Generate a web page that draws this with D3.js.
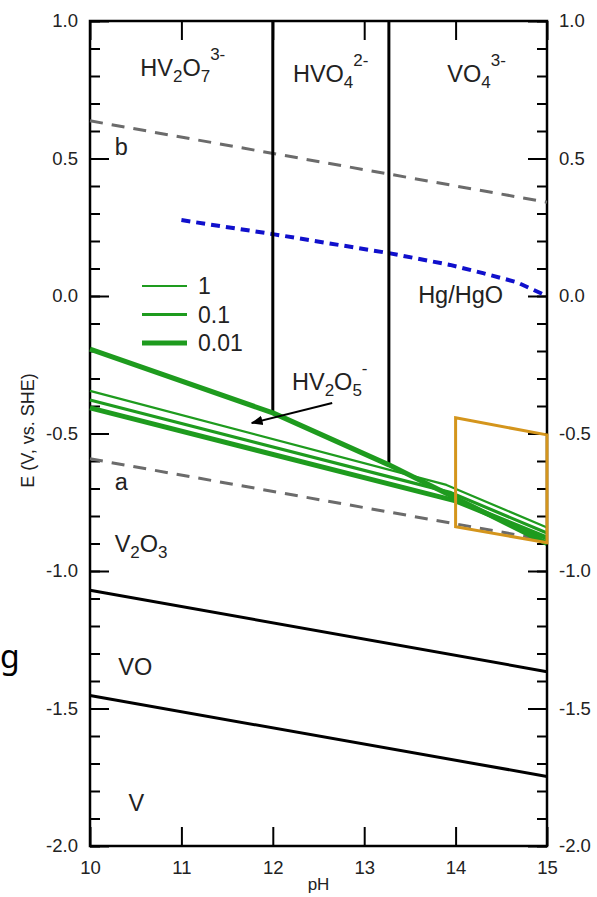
<!DOCTYPE html>
<html>
<head>
<meta charset="utf-8">
<script src="https://cdn.jsdelivr.net/npm/d3@7"></script>
<style>
  body { margin: 0; background: #fff; }
  text { font-family: "Liberation Sans", Arial, sans-serif; }
</style>
</head>
<body>
<script>
// ---- data (pH, E vs SHE) ----
const phTicks = [10, 11, 12, 13, 14, 15];
const eTicks = [1.0, 0.5, 0.0, -0.5, -1.0, -1.5, -2.0];

const waterB = [[10, 0.637], [15, 0.341]];
const waterA = [[10, -0.592], [15, -0.888]];
const hgHgO = [[11, 0.276], [12, 0.225], [13.27, 0.156], [13.94, 0.113], [14.3, 0.083], [14.67, 0.05], [15, 0.0]];

const boundary12 = [[12, 1.0], [12, -0.425]];
const boundary133 = [[13.27, 1.0], [13.27, -0.614]];
const v2o3VO = [[10, -1.07], [15, -1.366]];
const voV = [[10, -1.453], [15, -1.747]];

const conc1 = [[10, -0.345], [13.9, -0.687], [15, -0.842]];
const conc01 = [[10, -0.378], [13.95, -0.715], [15, -0.862]];
const conc001 = [[10, -0.407], [14.0, -0.745], [15, -0.88]];
const conc001Upper = [[10, -0.193], [12, -0.425], [13.27, -0.614], [15, -0.9]];

const box = [[14, -0.443], [15, -0.505], [15, -0.897], [14, -0.839]];

const legendLabels = ["1", "0.1", "0.01"];

// region labels: [pH, E, parts]
const regionLabels = [
  [10.55, 0.80, [["HV"], ["2", "sub"], ["O"], ["7", "sub"], ["3-", "sup"]]],
  [12.22, 0.777, [["HVO"], ["4", "sub"], ["2-", "sup"]]],
  [13.91, 0.777, [["VO"], ["4", "sub"], ["3-", "sup"]]],
  [10.27, 0.512, [["b"]]],
  [10.27, -0.705, [["a"]]],
  [10.27, -0.93, [["V"], ["2", "sub"], ["O"], ["3", "sub"]]],
  [10.31, -1.377, [["VO"]]],
  [10.42, -1.874, [["V"]]],
  [12.21, -0.341, [["HV"], ["2", "sub"], ["O"], ["5", "sub"], ["-", "sup"]]],
  [13.59, -0.025, [["Hg/HgO"]]]
];
const arrow = [[12.65, -0.389], [11.77, -0.462]];

// ---- layout ----
const W = 597, H = 897;
const margin = { top: 21, right: 50, bottom: 51, left: 90 };
const width = W - margin.left - margin.right;
const height = H - margin.top - margin.bottom;

const svg = d3.select("body").append("svg")
  .attr("width", W)
  .attr("height", H);

// stray glyph cropped from surrounding page
svg.append("text")
  .attr("x", 0).attr("y", 668)
  .style("font-family", "'Noto Sans', sans-serif")
  .attr("font-size", 32)
  .attr("fill", "#000")
  .text("g");

const g = svg.append("g")
  .attr("transform", `translate(${margin.left},${margin.top})`);

const x = d3.scaleLinear().domain([10, 15]).range([0, width]);
const y = d3.scaleLinear().domain([-2, 1]).range([height, 0]);

const line = d3.line().x(d => x(d[0])).y(d => y(d[1]));
const fmt = d => d.toFixed(1);
const tickFont = 18.5;

// minor y ticks (every 0.1)
const minor = y.ticks(30);

function styleAxis(sel) {
  sel.select(".domain").remove();
  sel.selectAll("line").attr("stroke", "#000").attr("stroke-width", 2);
  sel.selectAll("text").attr("font-size", tickFont).attr("fill", "#222")
    .style("font-family", "'Liberation Sans', Arial, sans-serif");
}

g.append("g").call(d3.axisLeft(y).tickValues(minor).tickSize(-10).tickFormat(""))
  .call(styleAxis);
g.append("g").call(d3.axisLeft(y).tickValues(eTicks).tickSize(-19).tickPadding(12).tickFormat(fmt))
  .call(styleAxis);
g.append("g").attr("transform", `translate(${width},0)`)
  .call(d3.axisRight(y).tickValues(minor).tickSize(-10).tickFormat(""))
  .call(styleAxis);
g.append("g").attr("transform", `translate(${width},0)`)
  .call(d3.axisRight(y).tickValues(eTicks).tickSize(-19).tickPadding(12).tickFormat(fmt))
  .call(styleAxis);
g.append("g").attr("transform", `translate(0,${height})`)
  .call(d3.axisBottom(x).tickValues(phTicks).tickSize(-19).tickPadding(15).tickFormat(d3.format("d")))
  .call(styleAxis);
g.append("g")
  .call(d3.axisTop(x).tickValues(phTicks).tickSize(-19).tickFormat(""))
  .call(styleAxis);

// frame
g.append("rect")
  .attr("width", width).attr("height", height)
  .attr("fill", "none").attr("stroke", "#000").attr("stroke-width", 2.5);

// axis titles
g.append("text")
  .attr("x", x(12.5)).attr("y", height + 44)
  .attr("text-anchor", "middle")
  .attr("font-size", 17).attr("fill", "#222")
  .text("pH");

g.append("text")
  .attr("transform", `translate(${-56},${y(-0.5) - 3}) rotate(-90)`)
  .attr("text-anchor", "middle")
  .attr("font-size", 18).attr("fill", "#222")
  .text("E (V, vs. SHE)");

// dashed water lines
[waterB, waterA].forEach(d => {
  g.append("path").attr("d", line(d))
    .attr("fill", "none").attr("stroke", "#6b6b6b")
    .attr("stroke-width", 3).attr("stroke-dasharray", "13,9");
});

// Hg/HgO reference
g.append("path").attr("d", line(hgHgO))
  .attr("fill", "none").attr("stroke", "#1010cc")
  .attr("stroke-width", 4).attr("stroke-dasharray", "9,6");

// black boundaries
[boundary12, boundary133, v2o3VO, voV].forEach(d => {
  g.append("path").attr("d", line(d))
    .attr("fill", "none").attr("stroke", "#000").attr("stroke-width", 3);
});

// green concentration lines
const green = "#1e9b1e";
const greenWidths = [2.2, 3.2, 5];
[[conc1, 0], [conc01, 1], [conc001, 2], [conc001Upper, 2]].forEach(([d, i]) => {
  g.append("path").attr("d", line(d))
    .attr("fill", "none").attr("stroke", green)
    .attr("stroke-width", greenWidths[i]).attr("stroke-linejoin", "round");
});

// orange window
g.append("path").attr("d", line(box) + "Z")
  .attr("fill", "none").attr("stroke", "#d4951c").attr("stroke-width", 3);

// legend
const legend = g.append("g").attr("transform", "translate(52,265)");
legendLabels.forEach((lab, i) => {
  legend.append("line")
    .attr("x1", 0).attr("x2", 45)
    .attr("y1", i * 28.5).attr("y2", i * 28.5)
    .attr("stroke", green).attr("stroke-width", greenWidths[i]);
  legend.append("text")
    .attr("x", 56).attr("y", i * 28.5 + 8)
    .attr("font-size", 23).attr("fill", "#222")
    .text(lab);
});

// arrow
svg.append("defs").append("marker")
  .attr("id", "head").attr("viewBox", "0 0 10 10")
  .attr("refX", 9).attr("refY", 5)
  .attr("markerWidth", 6).attr("markerHeight", 6)
  .attr("orient", "auto")
  .append("path").attr("d", "M0,1 L10,5 L0,9 Z").attr("fill", "#000");

g.append("path").attr("d", line(arrow))
  .attr("stroke", "#000").attr("stroke-width", 2)
  .attr("marker-end", "url(#head)");

// region labels with sub/superscripts
const offsets = { sub: 6, sup: -16 };
regionLabels.forEach(([ph, e, parts]) => {
  const t = g.append("text")
    .attr("x", x(ph)).attr("y", y(e))
    .attr("font-size", 23.5).attr("fill", "#222");
  let cur = 0;
  parts.forEach(([s, kind]) => {
    const target = kind ? offsets[kind] : 0;
    t.append("tspan")
      .attr("dy", target - cur)
      .attr("font-size", kind ? 17 : 23.5)
      .text(s);
    cur = target;
  });
});
</script>
</body>
</html>
